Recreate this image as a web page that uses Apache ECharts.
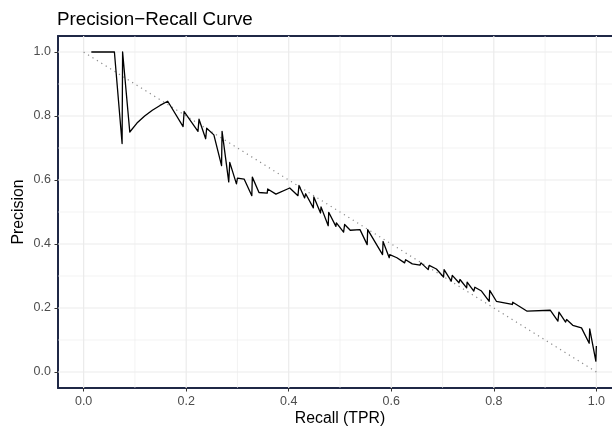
<!DOCTYPE html>
<html>
<head>
<meta charset="utf-8">
<script src="https://cdn.jsdelivr.net/npm/echarts@6/dist/echarts.min.js"></script>
<style>
  html, body { margin: 0; padding: 0; background: #fff; }
  #chart { width: 612px; height: 428px; }
</style>
</head>
<body>
<div id="chart"></div>
<script>
// Precision-recall points of the classifier, in threshold order
const recall = [
  0.015, 0.060, 0.075, 0.076, 0.090, 0.104, 0.119, 0.134, 0.149, 0.164,
  0.194, 0.196, 0.223, 0.225, 0.238, 0.240, 0.254, 0.269, 0.270, 0.283,
  0.285, 0.298, 0.300, 0.313, 0.328, 0.329, 0.342, 0.358, 0.359, 0.375,
  0.402, 0.418, 0.420, 0.431, 0.433, 0.448, 0.449, 0.462, 0.463, 0.477,
  0.478, 0.492, 0.493, 0.507, 0.509, 0.520, 0.539, 0.553, 0.554, 0.583,
  0.584, 0.596, 0.597, 0.611, 0.626, 0.628, 0.641, 0.656, 0.658, 0.672,
  0.674, 0.688, 0.702, 0.703, 0.717, 0.719, 0.732, 0.734, 0.747, 0.748,
  0.761, 0.763, 0.776, 0.791, 0.792, 0.805, 0.836, 0.837, 0.851, 0.865,
  0.867, 0.910, 0.925, 0.927, 0.940, 0.942, 0.954, 0.971, 0.986, 0.987,
  0.999, 1.000
];
const precision = [
  1.000, 1.000, 0.714, 1.000, 0.750, 0.778, 0.800, 0.818, 0.833, 0.846,
  0.767, 0.814, 0.752, 0.790, 0.729, 0.762, 0.741, 0.645, 0.752, 0.594,
  0.655, 0.588, 0.606, 0.603, 0.551, 0.609, 0.561, 0.559, 0.572, 0.556,
  0.575, 0.551, 0.583, 0.544, 0.557, 0.513, 0.547, 0.497, 0.516, 0.457,
  0.499, 0.455, 0.466, 0.437, 0.461, 0.443, 0.445, 0.398, 0.445, 0.367,
  0.408, 0.357, 0.367, 0.357, 0.341, 0.351, 0.338, 0.334, 0.341, 0.320,
  0.333, 0.322, 0.297, 0.320, 0.284, 0.302, 0.279, 0.289, 0.263, 0.281,
  0.253, 0.265, 0.253, 0.221, 0.255, 0.221, 0.211, 0.218, 0.204, 0.190,
  0.196, 0.193, 0.159, 0.187, 0.156, 0.164, 0.146, 0.138, 0.090, 0.135,
  0.034, 0.081
];

// Reference diagonal from (0, 1) to (1, 0)
const diagRecall = [0, 1];
const diagPrecision = [1, 0];

// Axis breaks and panel limits
const majorTicks = [0, 0.2, 0.4, 0.6, 0.8, 1.0];
const minorBreaks = [0.1, 0.3, 0.5, 0.7, 0.9];
const axisMin = -0.05;
const axisMax = 1.05;

const FONT = 'Liberation Sans, Arial, Helvetica, sans-serif';
const BORDER = { color: '#1f2846', width: 2 };

const curveData = recall.map((r, i) => [r, precision[i]]);
const diagData = diagRecall.map((r, i) => [r, diagPrecision[i]]);

// Background grid drawn as plain line series so it stays under the data
function gridSeries(v, width) {
  return [
    {
      type: 'line', z: 1, silent: true, showSymbol: false,
      data: [[v, axisMin], [v, axisMax]],
      lineStyle: { color: '#ebebeb', width: width }
    },
    {
      type: 'line', z: 1, silent: true, showSymbol: false,
      data: [[axisMin, v], [axisMax, v]],
      lineStyle: { color: '#ebebeb', width: width }
    }
  ];
}
const gridLineSeries = [];
minorBreaks.forEach(v => gridLineSeries.push(...gridSeries(v, 0.6)));
majorTicks.forEach(v => gridLineSeries.push(...gridSeries(v, 1.2)));

const tickLabel = {
  customValues: majorTicks, margin: 7,
  formatter: v => v.toFixed(1),
  fontFamily: FONT, fontSize: 12.5, color: '#4d4d4d'
};
const tickMark = {
  show: true, length: 3.5, customValues: majorTicks,
  lineStyle: { color: '#333333', width: 1 }
};

const chart = echarts.init(document.getElementById('chart'), null, { renderer: 'canvas' });

chart.setOption({
  animation: false,
  backgroundColor: '#ffffff',
  title: {
    text: 'Precision\u2212Recall Curve',
    left: 52,
    top: 5,
    textStyle: { fontFamily: FONT, fontSize: 18.8, fontWeight: 'normal', color: '#000' }
  },
  grid: {
    left: 58,
    top: 36,
    width: 564,
    height: 352,
    containLabel: false,
    outerBoundsMode: 'none',
    show: false
  },
  xAxis: [
    {
      type: 'value',
      position: 'bottom',
      min: axisMin,
      max: axisMax,
      name: 'Recall (TPR)',
      nameLocation: 'middle',
      nameGap: 23,
      nameMoveOverlap: false,
      nameTextStyle: { fontFamily: FONT, fontSize: 15.8, color: '#000' },
      axisLine: { show: true, onZero: false, lineStyle: BORDER },
      axisTick: tickMark,
      axisLabel: tickLabel,
      splitLine: { show: false }
    },
    {
      // top edge of the panel frame
      type: 'value',
      position: 'top',
      min: axisMin,
      max: axisMax,
      axisLine: { show: true, onZero: false, lineStyle: BORDER },
      axisTick: { show: false },
      axisLabel: { show: false },
      splitLine: { show: false }
    }
  ],
  yAxis: {
    type: 'value',
    position: 'left',
    min: axisMin,
    max: axisMax,
    name: 'Precision',
    nameLocation: 'middle',
    nameGap: 31,
    nameMoveOverlap: false,
    nameTextStyle: { fontFamily: FONT, fontSize: 15.8, color: '#000' },
    axisLine: { show: true, onZero: false, lineStyle: BORDER },
    axisTick: tickMark,
    axisLabel: tickLabel,
    splitLine: { show: false }
  },
  series: [
    ...gridLineSeries,
    {
      name: 'diagonal',
      type: 'line',
      data: diagData,
      z: 2,
      showSymbol: false,
      silent: true,
      lineStyle: { color: '#8a8a8a', width: 1.2, type: [1.2, 4] }
    },
    {
      name: 'PR curve',
      type: 'line',
      data: curveData,
      z: 3,
      showSymbol: false,
      silent: true,
      lineStyle: { color: '#000000', width: 1.3, join: 'round' }
    }
  ]
});
</script>
</body>
</html>
